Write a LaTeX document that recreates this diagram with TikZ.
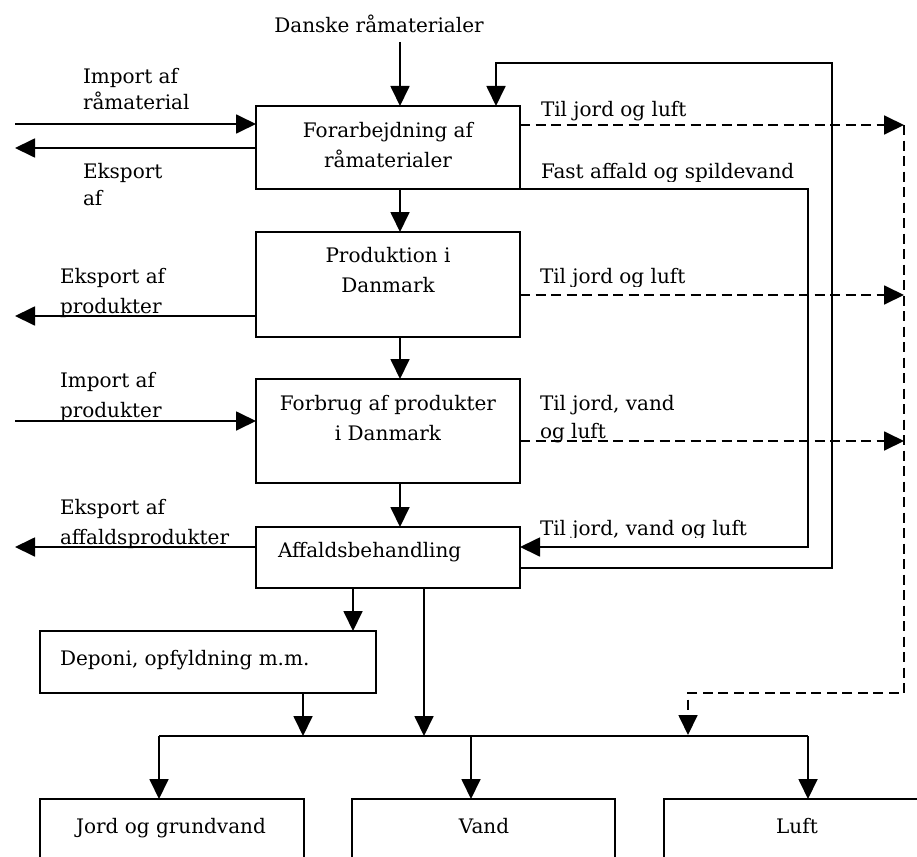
\documentclass[tikz,border=0pt]{standalone}
\usepackage{fontspec}
\setmainfont{DejaVu Serif}
\usetikzlibrary{arrows.meta}
\tikzset{
  ln/.style={line width=1.8pt},
  arr/.style={ln,-{Triangle[length=20pt,width=19pt]}},
  dln/.style={ln,dash pattern=on 10pt off 5.5pt},
  darr/.style={arr,dash pattern=on 10pt off 5.5pt},
  box/.style={draw,ln,inner sep=0pt,outer sep=0pt},
  lbl/.style={inner sep=0pt,outer sep=0pt,font=\fontsize{20pt}{27pt}\selectfont},
}
\begin{document}
\begin{tikzpicture}[x=1pt,y=-1pt]
\clip (0,0) rectangle (917,856);
% boxes
\node[box,minimum width=264pt,minimum height=83pt]  (b1) at (388,147.5) {};
\node[box,minimum width=264pt,minimum height=105pt] (b2) at (388,284.5) {};
\node[box,minimum width=264pt,minimum height=104pt] (b3) at (388,431) {};
\node[box,minimum width=264pt,minimum height=61pt]  (b4) at (388,557.5) {};
\node[box,minimum width=336pt,minimum height=62pt]  (b5) at (208,662) {};
\node[box,minimum width=264pt,minimum height=101pt] (bj) at (172,849.5) {};
\node[box,minimum width=263pt,minimum height=101pt] (bv) at (483.5,849.5) {};
\node[box,minimum width=266pt,minimum height=101pt] (bl) at (797,849.5) {};
% box texts (anchor=base refers to the last line)
\node[lbl,anchor=base,align=center,font=\fontsize{20pt}{30pt}\selectfont] (t1) at (388,167) {Forarbejdning af\\råmaterialer};
\node[lbl,anchor=base,align=center,font=\fontsize{20pt}{30pt}\selectfont] (t2) at (388,292) {Produktion i\\Danmark};
\node[lbl,anchor=base,align=center,font=\fontsize{20pt}{30pt}\selectfont] (t3) at (388,440) {Forbrug af produkter\\i Danmark};
\node[lbl,anchor=base west] (t4) at (278,557) {Affaldsbehandling};
\node[lbl,anchor=base west] (t5) at (60,665) {Deponi, opfyldning m.m.};
\node[lbl,anchor=base] (tj) at (171,833) {Jord og grundvand};
\node[lbl,anchor=base] (tv) at (484,833) {Vand};
\node[lbl,anchor=base] (tl) at (797,833) {Luft};
% left labels
\node[lbl,anchor=base] (danske) at (379,33) {Danske råmaterialer};
\node[lbl,anchor=base west,align=left,font=\fontsize{20pt}{26pt}\selectfont] (impr) at (83,110) {Import af\\råmaterial};
\node[lbl,anchor=base west,align=left] (ekspr) at (83,205) {Eksport\\af};
\node[lbl,anchor=base west,align=left,font=\fontsize{20pt}{30pt}\selectfont] (eksprod) at (60,313) {Eksport af\\produkter};
\node[lbl,anchor=base west,align=left,font=\fontsize{20pt}{30pt}\selectfont] (impprod) at (60,417) {Import af\\produkter};
\node[lbl,anchor=base west,align=left,font=\fontsize{20pt}{30pt}\selectfont] (eksaff) at (60,544) {Eksport af\\affaldsprodukter};
% right labels
\node[lbl,anchor=base west] (r1) at (541,117) {Til jord og luft};
\begin{scope}
\clip (530,150) rectangle (830,181);
\node[lbl,anchor=base west] (fast) at (541,178) {Fast affald og spildevand};
\end{scope}
\begin{scope}
\clip (530,250) rectangle (830,286);
\node[lbl,anchor=base west] (r2) at (540,283) {Til jord og luft};
\end{scope}
\node[lbl,anchor=base west,align=left,font=\fontsize{20pt}{28pt}\selectfont] (r3) at (540,438) {Til jord, vand\\og luft};
\begin{scope}
\clip (530,500) rectangle (830,537);
\node[lbl,anchor=base west] (r4) at (540,535) {Til jord, vand og luft};
\end{scope}
% helper coordinates
\coordinate (xm) at (400,0);
\coordinate (din) at (400,42);
\coordinate (L1) at (15,124);
\coordinate (L2) at (15,148);
\coordinate (L3) at (15,316);
\coordinate (L4) at (15,421);
\coordinate (L5) at (15,547);
\coordinate (R1) at (904,125);
\coordinate (R2) at (904,295);
\coordinate (R3) at (904,441);
\coordinate (Rb) at (904,693);
\coordinate (Rin) at (688,735);
\coordinate (lp) at (832,63);
\coordinate (lpin) at (496,0);
\coordinate (ys1) at (0,568);
\coordinate (fa) at (808,547);
\coordinate (x5) at (353,0);
\coordinate (x6) at (424,0);
\coordinate (x7) at (303,0);
\coordinate (busL) at (159,736);
\coordinate (busM) at (471,736);
\coordinate (busR) at (808,736);
% main flow
\draw[arr] (din) -- (din |- b1.north);
\draw[arr] (b1.south -| xm) -- (b2.north -| xm);
\draw[arr] (b2.south -| xm) -- (b3.north -| xm);
\draw[arr] (b3.south -| xm) -- (b4.north -| xm);
% left arrows
\draw[arr] (L1) -- (L1 -| b1.west);
\draw[arr] (L2 -| b1.west) -- (L2);
\draw[arr] (L3 -| b2.west) -- (L3);
\draw[arr] (L4) -- (L4 -| b3.west);
\draw[arr] (L5 -| b4.west) -- (L5);
% right dashed
\draw[darr] (R1 -| b1.east) -- (R1);
\draw[darr] (R2 -| b2.east) -- (R2);
\draw[darr] (R3 -| b3.east) -- (R3);
\draw[darr] (R1) -- (Rb) -| (Rin);
% loops
\draw[arr] (ys1 -| b4.east) -| (lp) -| (lpin |- b1.north);
\draw[arr] (b1.south east) -| (fa) -- (fa -| b4.east);
% lower
\draw[arr] (b4.south -| x5) -- (b5.north -| x5);
\draw[arr] (b4.south -| x6) -- (busL -| x6);
\draw[arr] (b5.south -| x7) -- (busL -| x7);
\draw[ln] (busL) -- (busR);
\draw[arr] (busL) -- (busL |- bj.north);
\draw[arr] (busM) -- (busM |- bv.north);
\draw[arr] (busR) -- (busR |- bl.north);
\end{tikzpicture}
\end{document}
